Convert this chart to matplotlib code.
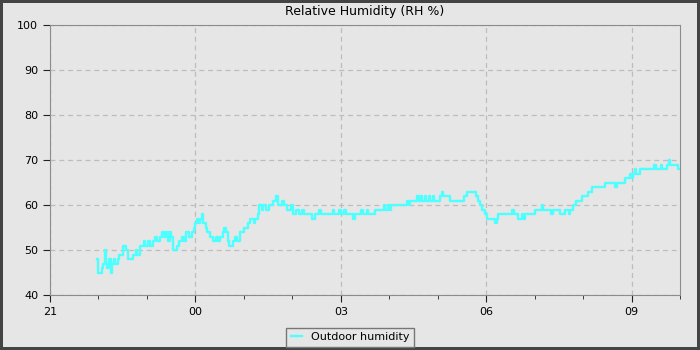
import numpy as np
import pandas as pd
import matplotlib
matplotlib.use('Agg')
import matplotlib.pyplot as plt
import matplotlib.dates as mdates

# minutes after 21:00 and humidity value (step data)
minutes = [58, 59, 64, 66, 68, 69, 71, 73, 75, 77, 79, 81, 84, 86, 90, 94, 96, 100,
           103, 106, 108, 111, 114, 116, 118, 121, 124, 127, 130, 133, 136, 139, 141,
           144, 146, 148, 150, 152, 157, 160, 163, 166, 169, 172, 176, 178, 180, 182,
           184, 186, 188, 190, 193, 195, 198, 202, 205, 208, 211, 214, 216, 218, 220,
           222, 226, 229, 232, 235, 240, 245, 248, 252, 254, 257, 259, 262, 264, 268,
           271, 276, 280, 282, 287, 290, 294, 298, 301, 305, 308, 312, 315, 322, 324,
           328, 333, 335, 343, 350, 352, 358, 360, 364, 366, 372, 375, 378, 385, 387,
           392, 394, 402, 410, 413, 415, 418, 420, 422, 442, 444, 446, 452, 455, 457,
           459, 461, 464, 466, 469, 471, 474, 476, 483, 485, 487, 493, 495, 510, 512,
           516, 527, 530, 533, 535, 538, 541, 551, 553, 555, 570, 572, 575, 580, 584,
           586, 588, 601, 608, 609, 611, 620, 623, 632, 638, 642, 644, 647, 651, 659,
           666, 671, 687, 700, 702, 712, 718, 720, 722, 724, 726, 731, 748, 750, 756,
           758, 764, 766, 768, 777, 780]
humidity = [48, 45, 46, 47, 50, 47, 46, 48, 45, 47, 48, 47, 48, 49, 51, 50, 48, 48,
            49, 50, 49, 51, 51, 52, 51, 52, 51, 52, 53, 52, 53, 54, 53,
            54, 52, 54, 53, 50, 51, 52, 53, 52, 54, 53, 54, 55, 56, 57,
            56, 57, 58, 56, 55, 54, 53, 52, 53, 52, 53, 54, 55, 54, 52,
            51, 52, 53, 52, 54, 55, 56, 57, 56, 57, 58, 60, 59, 60, 59,
            60, 61, 62, 60, 61, 60, 59, 60, 58, 59, 58, 59, 58, 58, 57,
            58, 59, 58, 58, 59, 58, 59, 58, 59, 58, 58, 57, 58, 59, 58,
            59, 58, 59, 59, 60, 59, 60, 59, 60, 61, 60, 61, 61, 62, 61,
            62, 61, 62, 61, 62, 61, 62, 61, 62, 63, 62, 62, 61, 61, 62,
            63, 62, 61, 60, 59, 58, 57, 56, 57, 58, 58, 59, 58, 57, 58,
            57, 58, 59, 59, 60, 59, 58, 59, 58, 59, 58, 59, 60, 61, 62,
            63, 64, 65, 64, 65, 66, 67, 66, 67, 68, 67, 68, 69, 68, 69,
            68, 69, 70, 69, 68, 68]

start = pd.Timestamp('2024-01-01 21:00')
times = start + pd.to_timedelta(minutes, unit='m')

fig = plt.figure(figsize=(7, 3.5), dpi=100, facecolor='#e6e6e6')
fig.patch.set_edgecolor('#444444')
fig.patch.set_linewidth(3)
ax = fig.add_axes([50/700, 55/350, 630/700, 270/350])
ax.set_facecolor('#e6e6e6')

ax.plot(times, humidity, drawstyle='steps-post', color='#4dffff', lw=1.7,
        label='Outdoor humidity')

ax.set_xlim(start, start + pd.Timedelta(hours=13))
ax.set_ylim(40, 100)
ax.set_yticks(range(40, 101, 10))
ax.xaxis.set_major_locator(mdates.HourLocator(byhour=[0, 3, 6, 9, 21]))
ax.xaxis.set_minor_locator(mdates.HourLocator())
ax.xaxis.set_major_formatter(mdates.DateFormatter('%H'))
ax.tick_params(axis='both', which='major', length=5, color='#222222', labelsize=8)
ax.tick_params(axis='x', which='minor', length=3, color='#222222')
ax.grid(True, which='major', ls=(0, (4, 3)), color='#bdbdbd', lw=0.9)
for s in ax.spines.values():
    s.set_color('#8c8c8c')

ax.set_title('Relative Humidity (RH %)', fontsize=9, pad=7)

leg = fig.legend(loc='lower center', bbox_to_anchor=(0.5, 0.0), fontsize=8,
                 fancybox=False, edgecolor='#777777', facecolor='#e6e6e6',
                 framealpha=1, handlelength=1.0, borderaxespad=0.3)

fig.savefig('out.png', dpi=100, facecolor=fig.get_facecolor(), edgecolor=fig.patch.get_edgecolor())
